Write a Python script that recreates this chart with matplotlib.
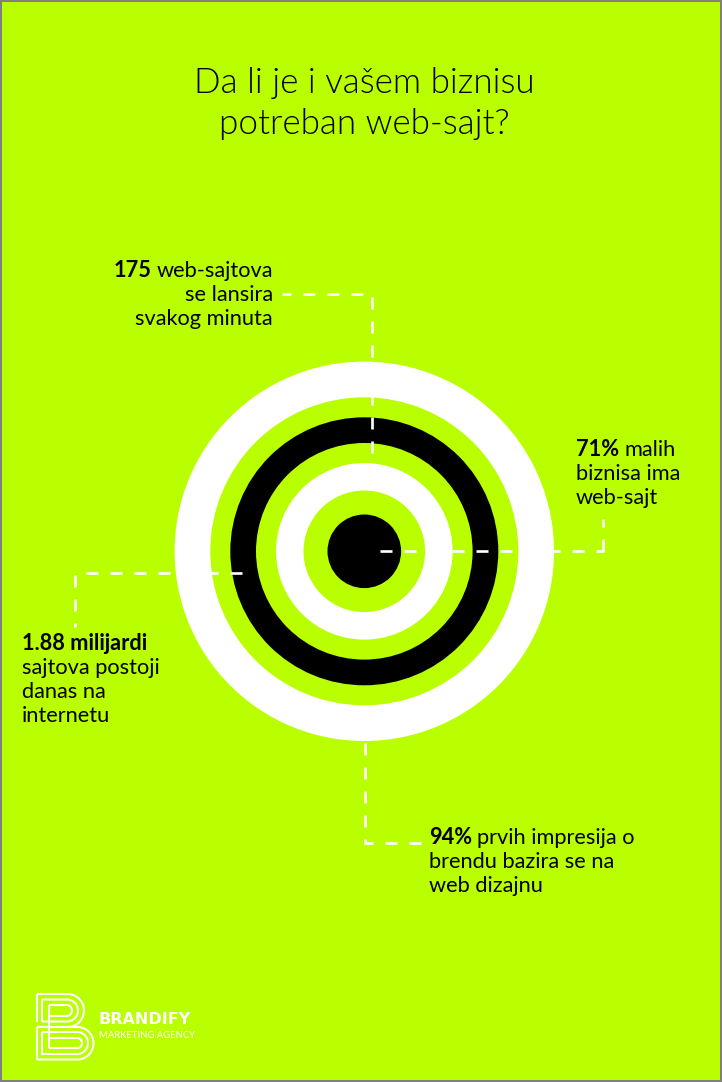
import numpy as np
import matplotlib
matplotlib.use("Agg")
import matplotlib.pyplot as plt
from matplotlib.patches import Circle, Rectangle

LIME = "#b9ff00"
WHITE = "#ffffff"
BLACK = "#000000"

# Target, outermost ring first
ring_radii = [189.7, 154, 134, 108.3, 88.3, 60.8, 36.8]
ring_colors = [WHITE, LIME, BLACK, LIME, WHITE, LIME, BLACK]

# Leader lines as (x, y) corners
leader_lines = [
    [(372, 453), (372, 294), (282, 294)],
    [(380, 551), (604, 551)],
    [(603, 551), (603, 519)],
    [(242, 573.3), (86, 573.3)],
    [(75.3, 575), (75.3, 627)],
    [(364.5, 743), (364.5, 843.3), (434, 843.3)],
]

title_lines = ["Da li je i vašem biznisu", "potreban web-sajt?"]

plt.rcParams["font.family"] = ["Lato", "DejaVu Sans"]

fig = plt.figure(figsize=(7.22, 10.82), dpi=100, facecolor=LIME)
ax = fig.add_axes([0, 0, 1, 1])
ax.set_xlim(0, 722)
ax.set_ylim(1082, 0)
ax.axis("off")

# Grey frame, half of it falls off the canvas
ax.add_patch(Rectangle((0, 0), 722, 1082, fill=False, ec="#808080", lw=2.9))

for r, c in zip(ring_radii, ring_colors):
    ax.add_patch(Circle((364.3, 551.3), r, fc=c, ec="none"))

for line in leader_lines:
    xs, ys = zip(*line)
    ax.plot(xs, ys, color=WHITE, lw=1.92, ls=(0, (4.5, 4.5)), dash_capstyle="butt",
            dash_joinstyle="miter")

for y, t in zip([93.3, 134], title_lines):
    ax.text(364.5, y, t, fontsize=25.2, fontweight=300, ha="center", va="baseline", color=BLACK)

FS = 15.7


def label(x, y, parts, ha="left"):
    # parts: one (text, bold) tuple per run on the same line
    r = fig.canvas.get_renderer()
    widths = []
    for text, bold in parts:
        t = ax.text(0, 0, text, fontsize=FS, fontweight="bold" if bold else "normal")
        widths.append(t.get_window_extent(r).width)
        t.remove()
    space = 5
    total = sum(widths) + space * (len(parts) - 1)
    cx = x - total if ha == "right" else x
    for (text, bold), w in zip(parts, widths):
        ax.text(cx, y, text, fontsize=FS, ha="left", va="baseline", color=BLACK,
                fontweight="bold" if bold else "normal")
        cx += w + space


label(273, 277, [("175", True), ("web-sajtova", False)], ha="right")
label(273, 301, [("se lansira", False)], ha="right")
label(273, 325, [("svakog minuta", False)], ha="right")

label(576, 456.5, [("71%", True), ("malih", False)])
label(576, 480.5, [("biznisa ima", False)])
label(576, 504.5, [("web-sajt", False)])

label(22, 650, [("1.88 milijardi", True)])
label(22, 674, [("sajtova postoji", False)])
label(22, 698, [("danas na", False)])
label(22, 722, [("internetu", False)])

label(429, 844, [("94%", True), ("prvih impresija o", False)])
label(429, 868, [("brendu bazira se na", False)])
label(429, 892, [("web dizajnu", False)])


def bowl(x0, x1, y0, y1):
    # open shape: left side, top edge, half circle, bottom edge
    r = (y1 - y0) / 2
    a = np.linspace(-np.pi / 2, np.pi / 2, 40)
    xs = np.r_[x0, x1 - r + r * np.cos(a), x0]
    ys = np.r_[y0, (y0 + y1) / 2 + r * np.sin(a), y1]
    return xs, ys


# Logo: nested strokes of the letter B
logo_strokes = [
    bowl(37, 84, 994, 1027),
    bowl(42, 78, 999.5, 1021.5),
    bowl(49, 72, 1005, 1016),
    bowl(37, 93.5, 1027, 1059.5),
    bowl(42, 88, 1032, 1054),
    bowl(49, 82, 1038, 1048),
]
for xs, ys in logo_strokes:
    ax.plot(xs, ys, color=WHITE, lw=1.5, solid_capstyle="butt")
ax.plot([37, 37], [993.5, 1022], color=WHITE, lw=1.5, solid_capstyle="butt")
ax.plot([42, 42], [999, 1022], color=WHITE, lw=1.5, solid_capstyle="butt")
ax.plot([37, 37], [1026.5, 1060], color=WHITE, lw=1.5, solid_capstyle="butt")
ax.plot([42, 42], [1032, 1054.5], color=WHITE, lw=1.5, solid_capstyle="butt")
ax.plot([49, 49], [1005, 1048], color=WHITE, lw=1.5, solid_capstyle="butt")

ax.text(99, 1020, "BRANDIFY", fontsize=11.5, fontweight="bold", family="DejaVu Sans",
        color=WHITE, ha="left", va="center")
ax.text(99, 1035, "MARKETING AGENCY", fontsize=6.8, color=WHITE, ha="left", va="center")

fig.savefig("out.png", dpi=100, facecolor=LIME)
